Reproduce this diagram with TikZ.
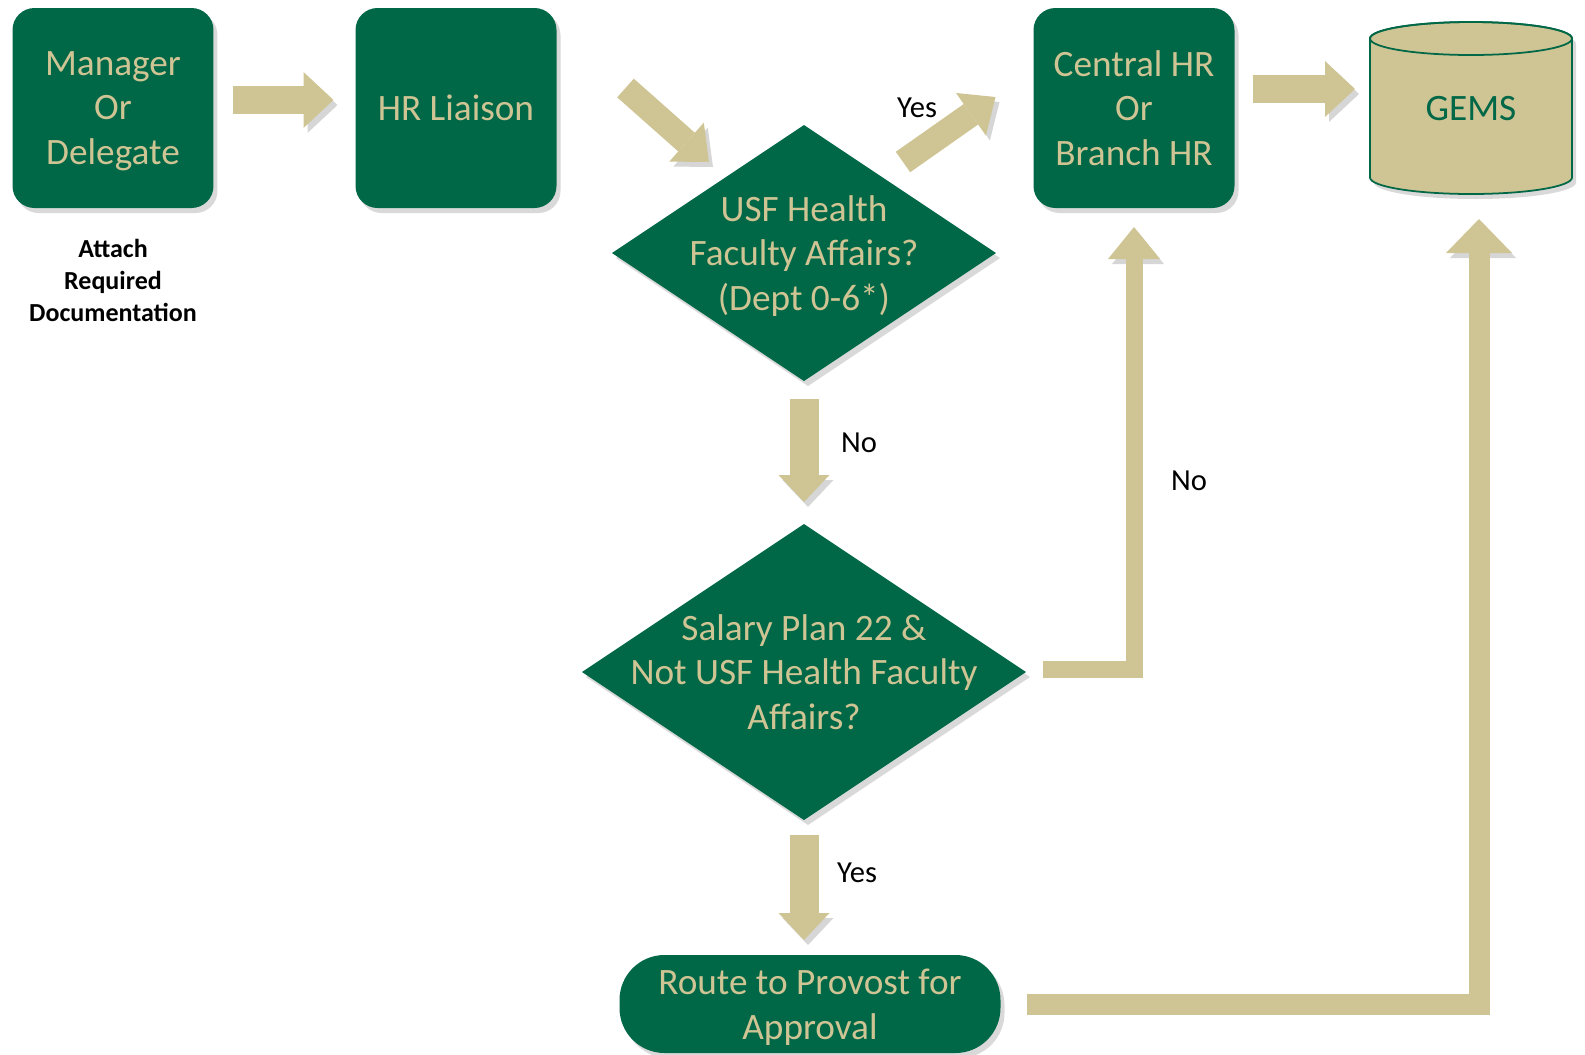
\documentclass[tikz,border=0pt]{standalone}
\usepackage{fontspec}
\setmainfont{Carlito}
\usepackage{xcolor}
\definecolor{usfgreen}{HTML}{006747}
\definecolor{usfgold}{HTML}{CFC493}
\definecolor{shade}{HTML}{D6D6D6}
\usepackage{tikz}
\usetikzlibrary{arrows.meta, positioning, calc, shapes.geometric, shadows, backgrounds}

\begin{document}
\begin{tikzpicture}[
  x=0.1mm, y=-0.1mm,
  boxtext/.style={font=\fontsize{10.6pt}{12.7pt}\selectfont, align=center, text depth=0pt},
  stepbox/.style={
    boxtext, fill=usfgreen, text=usfgold, rounded corners=2.2mm,
    minimum width=20.1mm, minimum height=20mm, inner sep=0pt, outer sep=0pt,
    drop shadow={shadow xshift=0.4mm, shadow yshift=-0.5mm, fill=black, opacity=0.15}
  },
  decision/.style={
    boxtext, diamond, aspect=1.5, fill=usfgreen, text=usfgold,
    inner sep=-3mm, outer sep=0pt,
    drop shadow={shadow xshift=0.4mm, shadow yshift=-0.5mm, fill=black, opacity=0.15}
  },
  flow/.style={
    draw=usfgold, line width=2.8mm,
    -{Triangle[width=5.6mm, length=3mm, line width=0pt]},
    preaction={draw=shade, transform canvas={shift={(0.4mm,-0.5mm)}}}
  },
  flowslant/.style={flow, line width=2.5mm,
    -{Triangle[width=5.2mm, length=3mm, line width=0pt]}},
  flowdown/.style={flow, line width=2.9mm,
    -{Triangle[width=5.1mm, length=2.7mm, line width=0pt]}},
  elbow/.style={flow, line width=1.7mm,
    -{Triangle[width=5.2mm, length=3.2mm, line width=0pt]}},
  elbowwide/.style={flow, line width=2.1mm,
    -{Triangle[width=6.6mm, length=3.4mm, line width=0pt]}},
  cylbody/.style={fill=usfgold, draw=usfgreen, line width=0.5pt,
    drop shadow={shadow xshift=0.4mm, shadow yshift=-0.5mm, fill=black, opacity=0.15}},
  note/.style={font=\bfseries\fontsize{7.4pt}{9.1pt}\selectfont, align=center},
  lbl/.style={font=\fontsize{8.7pt}{10pt}\selectfont}
]
  \useasboundingbox (0,0) rectangle (1585,1055);

  \node[stepbox] (mgr) at (113,108) {Manager\\Or\\Delegate};
  \node[note] (attach) at (113,280) {Attach\\Required\\Documentation};
  \node[stepbox] (liaison) at (456,108) {HR Liaison};
  \node[decision, minimum width=38.4mm, minimum height=25.6mm]
    (q1) at (804,253) {USF Health\\Faculty Affairs?\\(Dept 0-6*)};
  \node[stepbox] (central) at (1134,108) {Central HR\\Or\\Branch HR};
  \node[boxtext, text=usfgreen, minimum width=20.2mm, minimum height=17.2mm,
        inner sep=0pt, outer sep=0pt] (gems) at (1471,108) {GEMS};
  \node[decision, minimum width=44.4mm, minimum height=29.6mm]
    (q2) at (804,672) {Salary Plan 22 \&\\Not USF Health Faculty\\Affairs?};
  \node[stepbox, rounded corners=4.5mm, minimum width=38.1mm, minimum height=9.8mm]
    (route) at (810,1004) {Route to Provost for\\Approval};

  \begin{scope}[on background layer]
    \filldraw[cylbody] ([yshift=-1.65mm]gems.north west) -- ([yshift=1.65mm]gems.south west)
      arc[start angle=180, end angle=360, x radius=10.1mm, y radius=1.65mm]
      -- ([yshift=-1.65mm]gems.north east)
      arc[start angle=0, end angle=180, x radius=10.1mm, y radius=1.65mm] -- cycle;
    \draw[usfgreen, line width=0.5pt] ([yshift=-1.65mm]gems.north)
      ellipse[x radius=10.1mm, y radius=1.65mm];
  \end{scope}

  \draw[flow, shorten <=2mm, shorten >=2.2mm]
    ([yshift=0.8mm]mgr.east) -- ([yshift=0.8mm]liaison.west);
  \draw[flowslant] ([shift={(6.9mm,2mm)}]liaison.east) -- ([shift={(-9.5mm,-3.7mm)}]q1.north);
  \draw[flowslant] ([shift={(9.9mm,-3.7mm)}]q1.north) -- ([shift={(-3.8mm,1.1mm)}]central.west);
  \draw[flow] ([shift={(1.8mm,1.9mm)}]central.east) -- ([shift={(-1.5mm,1.9mm)}]gems.west);
  \draw[flowdown, shorten <=1.8mm, shorten >=2.2mm] (q1.south) -- (q2.north);
  \draw[flowdown, shorten <=1.5mm, shorten >=1.5mm] (q2.south) -- (q2.south |- route.north);
  \draw[elbow] ([shift={(1.7mm,0.3mm)}]q2.east) -| ([yshift=-1.9mm]central.south);
  \draw[elbowwide] ([xshift=2.6mm]route.east) -| ([shift={(0.8mm,-2.5mm)}]gems.south);

  \node[lbl] (yes1) at (917,108) {Yes};
  \node[lbl] (no1) at (859,443) {No};
  \node[lbl] (no2) at (1189,481) {No};
  \node[lbl] (yes2) at (857,873) {Yes};
\end{tikzpicture}
\end{document}
